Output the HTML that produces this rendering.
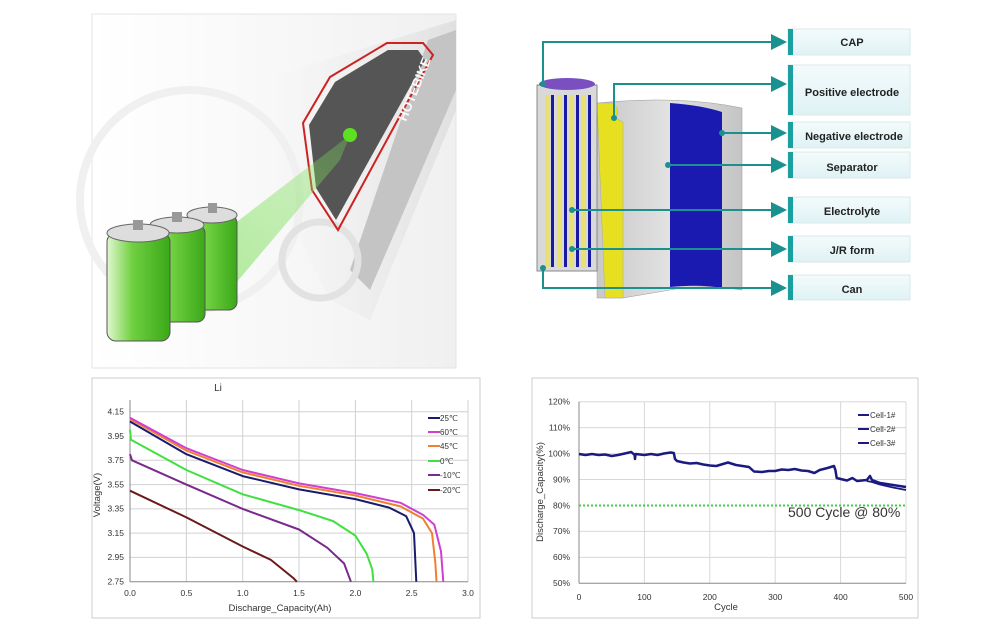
<!DOCTYPE html>
<html><head><meta charset="utf-8"><style>
html,body{margin:0;padding:0;background:#fff;}
svg{display:block;font-family:"Liberation Sans",sans-serif;}
</style></head><body>
<svg width="1000" height="631" viewBox="0 0 1000 631" xmlns="http://www.w3.org/2000/svg">
<defs>
<linearGradient id="bg1" x1="0" y1="0" x2="1" y2="0"><stop offset="0" stop-color="#ffffff"/><stop offset="0.5" stop-color="#f8f8f8"/><stop offset="1" stop-color="#f0f0f0"/></linearGradient>
<linearGradient id="bat" x1="0" y1="0" x2="1" y2="0"><stop offset="0" stop-color="#e0f8d0"/><stop offset="0.4" stop-color="#70d040"/><stop offset="1" stop-color="#3aa818"/></linearGradient>
<linearGradient id="beam" x1="0" y1="1" x2="1" y2="0"><stop offset="0" stop-color="#7de05a" stop-opacity="0.6"/><stop offset="1" stop-color="#7de05a" stop-opacity="0.3"/></linearGradient>
<linearGradient id="box" x1="0" y1="0" x2="0" y2="1"><stop offset="0" stop-color="#f4fbfc"/><stop offset="1" stop-color="#dff2f4"/></linearGradient>
<linearGradient id="sep" x1="0" y1="0" x2="1" y2="0"><stop offset="0" stop-color="#c8c8c8"/><stop offset="0.5" stop-color="#e2e2e2"/><stop offset="1" stop-color="#c4c4c4"/></linearGradient>
<linearGradient id="frame" x1="0" y1="0" x2="1" y2="0"><stop offset="0" stop-color="#f2f2f2" stop-opacity="0"/><stop offset="1" stop-color="#dcdcdc"/></linearGradient>
<marker id="ar" markerWidth="8" markerHeight="8" refX="6" refY="4" orient="auto"><path d="M0,0 L8,4 L0,8 z" fill="#1a9090"/></marker>
</defs>

<!-- TOP LEFT PHOTO -->
<rect x="92" y="14" width="364" height="354" fill="url(#bg1)" stroke="#e4e4e4"/>
<path d="M260,80 L456,20 L456,110 L370,320 L330,300 L280,200 Z" fill="url(#frame)" opacity="0.8"/>
<path d="M428,40 L456,30 L456,90 L370,290 L350,270 Z" fill="#c4c4c4"/>
<circle cx="190" cy="200" r="110" fill="none" stroke="#f0f0f0" stroke-width="8"/>
<circle cx="320" cy="260" r="38" fill="none" stroke="#e2e2e2" stroke-width="7"/>
<path d="M330,77 L387,43 L423,43 L433,55 L338,230 L312,190 L303,123 Z" fill="none" stroke="#cc2222" stroke-width="2"/>
<path d="M335,82 L388,50 L418,50 L425,60 L336,220 L316,188 L309,125 Z" fill="#555"/>
<text x="406" y="122" transform="rotate(-68 406 122)" font-size="13" font-weight="bold" fill="#fafafa">HOTEBIKE</text>
<path d="M200,250 L350,135 L340,160 L230,290 Z" fill="url(#beam)"/>
<circle cx="350" cy="135" r="7" fill="#5de020"/>
<g>
<rect x="187" y="215" width="50" height="95" rx="8" fill="url(#bat)" stroke="#555"/>
<ellipse cx="212" cy="215" rx="25" ry="8" fill="#ddd" stroke="#666"/>
<rect x="150" y="225" width="55" height="97" rx="8" fill="url(#bat)" stroke="#555"/>
<ellipse cx="177" cy="225" rx="27" ry="8" fill="#ddd" stroke="#666"/>
<rect x="107" y="233" width="63" height="108" rx="9" fill="url(#bat)" stroke="#555"/>
<ellipse cx="138" cy="233" rx="31" ry="9" fill="#ddd" stroke="#666"/>
<rect x="133" y="220" width="10" height="10" fill="#999"/><rect x="172" y="212" width="10" height="10" fill="#999"/><rect x="208" y="203" width="9" height="10" fill="#999"/>
</g>

<!-- TOP RIGHT DIAGRAM -->
<path d="M597,103 Q680,95 742,108 L742,290 Q700,284 670,290 L623,298 L597,298 Z" fill="url(#sep)" stroke="#999" stroke-width="0.5"/>
<path d="M670,103 Q700,105 722,112 L722,288 Q700,284 670,287 Z" fill="#1a1ab0"/>
<path d="M597,103 L612,103 Q622,110 615,118 L623,122 L623,298 L605,298 Z" fill="#e6e020" stroke="#aaa" stroke-width="0.5"/>
<rect x="537" y="85" width="60" height="186" fill="#d9d9d9" stroke="#888"/>
<g fill="#e8e070"><rect x="545" y="95" width="5" height="172"/><rect x="557" y="95" width="5" height="172"/><rect x="569" y="95" width="5" height="172"/><rect x="581" y="95" width="5" height="172"/></g>
<g fill="#1a1aa0"><rect x="551" y="95" width="3" height="172"/><rect x="564" y="95" width="3" height="172"/><rect x="576" y="95" width="3" height="172"/><rect x="588" y="95" width="3" height="172"/></g>
<ellipse cx="567" cy="84" rx="28" ry="6" fill="#7a50c0"/>
<g fill="none" stroke="#1a9090" stroke-width="2" marker-end="url(#ar)">
<path d="M543,84 L543,42 L783,42"/>
<path d="M614,118 L614,84 L783,84"/>
<path d="M722,133 L783,133"/>
<path d="M668,165 L783,165"/>
<path d="M572,210 L783,210"/>
<path d="M572,249 L783,249"/>
<path d="M543,268 L543,288 L783,288"/>
</g>
<g fill="#1a9090"><circle cx="543" cy="84" r="3"/><circle cx="614" cy="118" r="3"/><circle cx="722" cy="133" r="3"/><circle cx="668" cy="165" r="3"/><circle cx="572" cy="210" r="3"/><circle cx="572" cy="249" r="3"/><circle cx="543" cy="268" r="3"/></g>
<g font-size="11" font-weight="bold" fill="#222" text-anchor="middle">
<rect x="788" y="29" width="122" height="26" fill="url(#box)" stroke="#d8e8ea"/><rect x="788" y="29" width="5" height="26" fill="#1aa0a0"/><text x="852" y="46">CAP</text>
<rect x="788" y="65" width="122" height="50" fill="url(#box)" stroke="#d8e8ea"/><rect x="788" y="65" width="5" height="50" fill="#1aa0a0"/><text x="852" y="96">Positive electrode</text>
<rect x="788" y="122" width="122" height="26" fill="url(#box)" stroke="#d8e8ea"/><rect x="788" y="122" width="5" height="26" fill="#1aa0a0"/><text x="854" y="140">Negative electrode</text>
<rect x="788" y="152" width="122" height="26" fill="url(#box)" stroke="#d8e8ea"/><rect x="788" y="152" width="5" height="26" fill="#1aa0a0"/><text x="852" y="171">Separator</text>
<rect x="788" y="197" width="122" height="26" fill="url(#box)" stroke="#d8e8ea"/><rect x="788" y="197" width="5" height="26" fill="#1aa0a0"/><text x="852" y="215">Electrolyte</text>
<rect x="788" y="236" width="122" height="26" fill="url(#box)" stroke="#d8e8ea"/><rect x="788" y="236" width="5" height="26" fill="#1aa0a0"/><text x="852" y="254">J/R form</text>
<rect x="788" y="275" width="122" height="25" fill="url(#box)" stroke="#d8e8ea"/><rect x="788" y="275" width="5" height="25" fill="#1aa0a0"/><text x="852" y="293">Can</text>
</g>

<!-- BOTTOM LEFT CHART -->
<rect x="92" y="378" width="388" height="240" fill="#fff" stroke="#ccc"/>
<g stroke="#d0d0d0" stroke-width="1">
<line x1="186.4" y1="400" x2="186.4" y2="582"/><line x1="242.7" y1="400" x2="242.7" y2="582"/><line x1="299" y1="400" x2="299" y2="582"/><line x1="355.4" y1="400" x2="355.4" y2="582"/><line x1="411.7" y1="400" x2="411.7" y2="582"/><line x1="468" y1="400" x2="468" y2="582"/>
<line x1="130" y1="411.7" x2="468" y2="411.7"/><line x1="130" y1="436" x2="468" y2="436"/><line x1="130" y1="460.3" x2="468" y2="460.3"/><line x1="130" y1="484.6" x2="468" y2="484.6"/><line x1="130" y1="508.9" x2="468" y2="508.9"/><line x1="130" y1="533.1" x2="468" y2="533.1"/><line x1="130" y1="557.4" x2="468" y2="557.4"/>
</g>
<line x1="130" y1="400" x2="130" y2="582" stroke="#888"/><line x1="130" y1="581.7" x2="468" y2="581.7" stroke="#888"/>
<g font-size="8.5" fill="#333" text-anchor="end">
<text x="124" y="414.5">4.15</text><text x="124" y="439">3.95</text><text x="124" y="463">3.75</text><text x="124" y="487.5">3.55</text><text x="124" y="511.5">3.35</text><text x="124" y="536">3.15</text><text x="124" y="560">2.95</text><text x="124" y="584.5">2.75</text>
</g>
<g font-size="8.5" fill="#333" text-anchor="middle">
<text x="130" y="596">0.0</text><text x="186.4" y="596">0.5</text><text x="242.7" y="596">1.0</text><text x="299" y="596">1.5</text><text x="355.4" y="596">2.0</text><text x="411.7" y="596">2.5</text><text x="468" y="596">3.0</text>
</g>
<text x="280" y="611" font-size="9.5" fill="#333" text-anchor="middle">Discharge_Capacity(Ah)</text>
<text x="0" y="0" font-size="9.5" fill="#333" text-anchor="middle" transform="translate(100,495) rotate(-90)">Voltage(V)</text>
<text x="218" y="391" font-size="10" fill="#333" text-anchor="middle">Li</text>
<g fill="none" stroke-width="2" stroke-linejoin="round">
<polyline stroke="#6a1a1a" points="130,490.7 186.4,517.4 242.7,546.5 270.9,559.9 293.4,578.1 296.8,581.7"/>
<polyline stroke="#7a2a8a" points="130,454.2 132,460.3 186.4,484.6 242.7,508.9 299,529.5 327.2,547.7 344.1,563.5 350.9,581.7"/>
<polyline stroke="#40e040" points="130,429.9 131,439.7 186.4,470 242.7,494.3 299,510.1 332.9,521 355.4,535.6 366.7,553.8 372.3,569.6 373.4,581.7"/>
<polyline stroke="#f08030" points="130,419 186.4,450.6 242.7,472.4 299,485.8 355.4,495.5 400.5,506.4 423,518.6 432,533.1 435.4,563.5 436.5,581.7"/>
<polyline stroke="#d040d0" points="130,417.8 186.4,448.2 242.7,470 299,483.4 355.4,493.1 400.5,502.8 423,514.9 434.3,524.6 441,551.3 443.3,581.7"/>
<polyline stroke="#1a1a6e" points="130,421.5 186.4,454.2 242.7,476.1 299,489.4 355.4,499.1 389.2,507.6 406.1,516.1 414,533.1 416.3,581.7"/>
</g>
<g font-size="8" fill="#333" stroke-width="2">
<line x1="428" y1="418" x2="440" y2="418" stroke="#1a1a6e"/><text x="440" y="421">25℃</text>
<line x1="428" y1="432" x2="440" y2="432" stroke="#d040d0"/><text x="440" y="435">60℃</text>
<line x1="428" y1="446" x2="440" y2="446" stroke="#f08030"/><text x="440" y="449">45℃</text>
<line x1="428" y1="461" x2="440" y2="461" stroke="#40e040"/><text x="440" y="464">0℃</text>
<line x1="428" y1="475" x2="440" y2="475" stroke="#7a2a8a"/><text x="440" y="478">-10℃</text>
<line x1="428" y1="490" x2="440" y2="490" stroke="#6a1a1a"/><text x="440" y="493">-20℃</text>
</g>

<!-- BOTTOM RIGHT CHART -->
<rect x="532" y="378" width="386" height="240" fill="#fff" stroke="#ccc"/>
<g stroke="#d8d8d8" stroke-width="1">
<line x1="644.4" y1="401.7" x2="644.4" y2="583.3"/><line x1="709.8" y1="401.7" x2="709.8" y2="583.3"/><line x1="775.2" y1="401.7" x2="775.2" y2="583.3"/><line x1="840.6" y1="401.7" x2="840.6" y2="583.3"/><line x1="906" y1="401.7" x2="906" y2="583.3"/>
<line x1="579" y1="401.7" x2="906" y2="401.7"/><line x1="579" y1="427.6" x2="906" y2="427.6"/><line x1="579" y1="453.6" x2="906" y2="453.6"/><line x1="579" y1="479.5" x2="906" y2="479.5"/><line x1="579" y1="531.4" x2="906" y2="531.4"/><line x1="579" y1="557.4" x2="906" y2="557.4"/>
</g>
<line x1="579" y1="401.7" x2="579" y2="583.3" stroke="#888"/><line x1="579" y1="583.3" x2="906" y2="583.3" stroke="#888"/>
<line x1="579" y1="505.5" x2="906" y2="505.5" stroke="#40d040" stroke-width="2" stroke-dasharray="2,2"/>
<g font-size="8.5" fill="#333" text-anchor="end">
<text x="570" y="404.5">120%</text><text x="570" y="430.5">110%</text><text x="570" y="456.5">100%</text><text x="570" y="482.5">90%</text><text x="570" y="508.5">80%</text><text x="570" y="534">70%</text><text x="570" y="560">60%</text><text x="570" y="586">50%</text>
</g>
<g font-size="8.5" fill="#333" text-anchor="middle">
<text x="579" y="600">0</text><text x="644.4" y="600">100</text><text x="709.8" y="600">200</text><text x="775.2" y="600">300</text><text x="840.6" y="600">400</text><text x="906" y="600">500</text>
</g>
<text x="726" y="610" font-size="9.5" fill="#333" text-anchor="middle">Cycle</text>
<text x="0" y="0" font-size="9.5" fill="#333" text-anchor="middle" transform="translate(543,492) rotate(-90)">Discharge_Capacity(%)</text>
<text x="788" y="517" font-size="14" fill="#333">500 Cycle @ 80%</text>
<g fill="none" stroke="#1a1a80" stroke-width="2.5" stroke-linejoin="round">
<polyline points="579,454 585.5,455 592,454 598.6,455 605,454.5 611.7,456 618,455 624.8,453.5 631.3,452 634.6,455 635,459 635.5,454 644.4,455 651,454 657.5,455 664,453.5 670.6,452.5 673.8,453 675,459 677,461 683.6,462.5 690,463.5 696.7,463 703.3,464.5 709.8,465.5 716.3,466 722.9,464 728,462.5 736,465 742.5,466 749,467 754,471.5 762,472 768.7,471 775,471 781.7,469.5 788.3,470 794.8,469 801.4,470.5 808,471 814.4,473 819.7,470 827.5,468 834,466 835.4,470 836.7,478 840.6,479 847,480.5 852.4,478 857,481 866.8,480 870,476 872,480 880,483 893,485 906,487"/>
<polyline stroke-width="1.8" points="866.8,481 872,482 880,484.5 893,487.5 906,490"/>
</g>
<g font-size="8" fill="#333" stroke="#1a1a80" stroke-width="2">
<line x1="858" y1="415" x2="869" y2="415"/><text x="870" y="418" stroke="none">Cell-1#</text>
<line x1="858" y1="429" x2="869" y2="429"/><text x="870" y="432" stroke="none">Cell-2#</text>
<line x1="858" y1="443" x2="869" y2="443"/><text x="870" y="446" stroke="none">Cell-3#</text>
</g>
</svg>
</body></html>
